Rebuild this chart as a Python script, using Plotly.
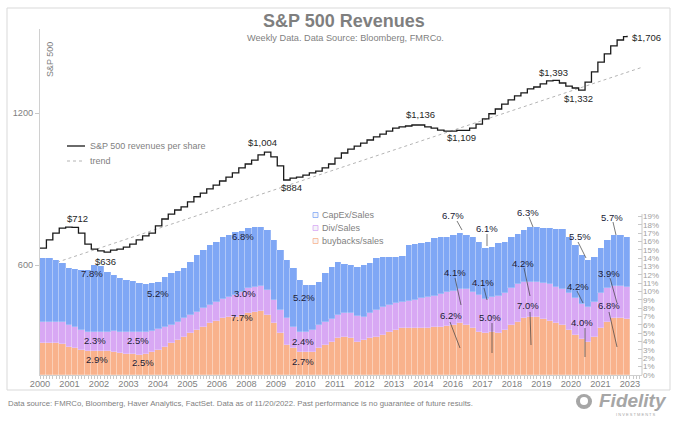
import plotly.graph_objects as go

# ---------------- data ----------------
# quarterly readings, 2000Q1 .. 2022Q4 (decimal year of quarter start)
quarters = [2000 + 0.25 * i for i in range(92)]

rev_per_share = [
    648, 673, 694, 710, 713, 712, 694, 660, 645, 640, 636, 642,
    645, 651, 660, 673, 685, 694, 717, 740, 757, 771, 782, 800,
    819, 833, 849, 864, 880, 896, 913, 934, 951, 968, 991, 1004,
    982, 943, 884, 892, 896, 904, 913, 921, 934, 951, 977, 1000,
    1018, 1032, 1046, 1061, 1076, 1090, 1105, 1120, 1126, 1131, 1136, 1136,
    1126, 1120, 1110, 1105, 1105, 1109, 1109, 1120, 1141, 1168, 1196, 1222,
    1250, 1274, 1297, 1315, 1339, 1351, 1370, 1389, 1393, 1376, 1357, 1345,
    1332, 1382, 1447, 1514, 1571, 1630, 1674, 1700,
]
asof_date = 2022.888   # 11/20/2022
asof_value = 1706

buybacks_sales = [
    3.8, 3.8, 3.8, 3.7, 3.4, 3.2, 3.0, 2.9, 2.9, 2.9, 2.9, 2.8,
    2.6, 2.5, 2.5, 2.4, 2.5, 2.7, 3.0, 3.4, 3.8, 4.2, 4.6, 5.0,
    5.4, 5.8, 6.2, 6.5, 6.8, 7.0, 7.0, 7.2, 7.4, 7.6, 7.7, 7.2,
    6.2, 5.0, 3.6, 3.2, 2.8, 2.7, 2.8, 3.2, 3.6, 4.0, 4.4, 4.5,
    4.4, 4.0, 4.2, 4.4, 4.6, 4.8, 5.2, 5.4, 5.6, 5.6, 5.6, 5.6,
    5.6, 5.7, 5.8, 5.9, 6.0, 6.2, 6.0, 5.6, 5.2, 5.0, 5.2, 5.0,
    5.4, 6.0, 6.4, 6.8, 7.0, 6.9, 6.7, 6.5, 6.2, 6.0, 5.4, 4.8,
    4.3, 4.0, 4.5, 5.6, 6.4, 6.8, 6.8, 6.7,
]
div_sales = [
    2.6, 2.6, 2.6, 2.6, 2.6, 2.6, 2.4, 2.3, 2.3, 2.3, 2.3, 2.5,
    2.6, 2.6, 2.6, 2.7, 2.7, 2.6, 2.5, 2.3, 2.2, 2.2, 2.2, 2.2,
    2.2, 2.2, 2.2, 2.3, 2.3, 2.4, 2.6, 2.8, 3.0, 3.0, 3.0, 3.0,
    2.8, 2.8, 3.2, 2.6, 2.4, 2.4, 2.6, 2.8, 2.8, 2.7, 2.8, 2.9,
    3.0, 3.1, 2.8, 3.0, 3.2, 3.3, 3.2, 3.2, 3.2, 3.3, 3.4, 3.6,
    3.7, 3.8, 3.9, 4.0, 4.1, 4.1, 4.3, 4.4, 4.4, 4.1, 4.1, 4.5,
    4.4, 4.4, 4.5, 4.3, 4.2, 4.3, 4.3, 4.4, 4.4, 4.3, 4.4, 4.4,
    4.2, 4.2, 4.3, 4.2, 4.0, 3.9, 3.9, 3.8,
]
capex_sales = [
    7.6, 7.6, 7.4, 7.1, 6.8, 6.9, 7.2, 7.4, 8.0, 7.9, 7.2, 6.7,
    6.4, 6.3, 6.2, 5.9, 5.7, 5.7, 5.7, 6.0, 6.2, 6.1, 6.0, 6.3,
    6.8, 7.0, 7.2, 7.2, 7.4, 7.4, 7.5, 7.3, 7.2, 7.1, 7.0, 7.2,
    7.2, 7.2, 7.0, 7.0, 6.2, 5.7, 5.4, 5.2, 5.8, 6.2, 6.3, 5.9,
    5.8, 5.9, 6.2, 6.0, 6.2, 6.0, 5.7, 5.6, 5.5, 6.7, 6.7, 6.6,
    6.6, 6.9, 6.8, 6.7, 6.7, 6.7, 6.5, 6.5, 6.4, 6.1, 6.0, 6.3,
    6.2, 6.1, 6.0, 6.3, 6.5, 6.6, 6.6, 6.7, 6.9, 7.2, 6.8, 6.4,
    5.9, 5.6, 5.3, 5.4, 5.8, 6.1, 6.1, 6.1,
]

trend_dates = [2000.0, 2023.47]
trend_values = [592, 1478]

tick_positions = [2000 + 1.15 * i for i in range(21)]
tick_labels = ["2000", "2001", "2002", "2003", "2004", "2005", "2006", "2008",
               "2009", "2010", "2011", "2012", "2013", "2014", "2016", "2017",
               "2018", "2019", "2020", "2021", "2023"]

line_labels = [("$712", 77, 218), ("$636", 105, 261), ("$1,004", 262, 142),
               ("$884", 291, 187), ("$1,136", 420, 114), ("$1,109", 461, 137),
               ("$1,393", 553, 72), ("$1,332", 578, 98), ("$1,706", 646, 37)]
pct_labels = [("7.8%", 92, 273), ("5.2%", 158, 293), ("6.8%", 243, 236),
              ("3.0%", 245, 293), ("7.7%", 242, 317), ("5.2%", 304, 297),
              ("2.3%", 95, 340), ("2.5%", 138, 340), ("2.9%", 97, 359),
              ("2.5%", 143, 362), ("2.4%", 303, 341), ("2.7%", 303, 361),
              ("6.7%", 453, 215), ("6.1%", 487, 229), ("6.3%", 528, 212),
              ("5.5%", 580, 237), ("5.7%", 612, 217), ("4.1%", 455, 272),
              ("4.1%", 483, 282), ("4.2%", 523, 263), ("4.2%", 578, 286),
              ("4.0%", 582, 322), ("3.9%", 609, 273), ("6.2%", 451, 315),
              ("5.0%", 490, 317), ("7.0%", 528, 305), ("6.8%", 609, 305)]
leaders = [((457, 221), (462, 230)), ((487, 234), (487, 246)), ((529, 217), (533, 227)),
           ((578, 242), (586, 258)), ((613, 222), (616, 235)), ((455, 278), (461, 305)),
           ((484, 288), (487, 300)), ((524, 268), (530, 296)), ((577, 291), (583, 303)),
           ((585, 328), (585, 357)), ((610, 278), (617, 303)), ((450, 322), (460, 348)),
           ((492, 323), (492, 353)), ((530, 312), (531, 345)), ((609, 312), (617, 347))]

# ---------------- layout helpers (pixel -> paper) ----------------
L, R, T, B = 40, 642, 29, 375
W, H = R - L, B - T


def px(x):
    return (x - L) / W


def py(y):
    return (B - y) / H


FONT = "Liberation Sans, Arial, sans-serif"
GRAY = "#7f7f7f"
BLUE, PURPLE, ORANGE = "#7fa7f5", "#d8a8f4", "#f9b28c"

fig = go.Figure()

# trend (base layer, behind bars)
fig.add_trace(go.Scatter(x=trend_dates, y=trend_values, mode="lines",
                         line=dict(color="#ababab", width=0.9, dash="dot"),
                         xaxis="x", yaxis="y", showlegend=False, hoverinfo="skip"))

bar_x = [q + 0.125 for q in quarters]
for vals, col, name in [(buybacks_sales, ORANGE, "buybacks/sales"),
                        (div_sales, PURPLE, "Div/Sales"),
                        (capex_sales, BLUE, "CapEx/Sales")]:
    fig.add_trace(go.Bar(x=bar_x, y=vals, width=0.25, marker_color=col,
                         marker_line=dict(color="rgba(255,255,255,0.35)", width=0.6),
                         name=name, xaxis="x", yaxis="y2", showlegend=False))

fig.add_trace(go.Scatter(x=quarters + [asof_date], y=rev_per_share + [asof_value],
                         mode="lines", line=dict(color="#1a1a1a", width=1.3, shape="hv"),
                         xaxis="x", yaxis="y3", showlegend=False))

yr = [2.56029, 3.24555]
top_pct = 19 * H / (B - 216.5)   # 19% sits at pixel row 216.5
fig.update_layout(
    width=680, height=421, autosize=False,
    margin=dict(l=L, r=680 - R, t=T, b=421 - B, pad=0, autoexpand=False),
    paper_bgcolor="white", plot_bgcolor="white",
    barmode="stack", bargap=0,
    font=dict(family=FONT, color=GRAY, size=10),
    xaxis=dict(range=[2000, 2023.47], tickmode="array", tickvals=tick_positions,
               ticktext=tick_labels, showgrid=False, zeroline=False, automargin=False,
               showline=True, linecolor="#d0d0d0", ticks="", ticklen=0,
               tickfont=dict(size=9.2, color=GRAY),
               minor=dict(ticks="outside", ticklen=3, tickcolor="#c8c8c8",
                          tick0=2000, dtick=0.125)),
    yaxis=dict(type="log", range=yr, tickmode="array", tickvals=[600, 1200],
               ticktext=["600", "1200"], showgrid=False, zeroline=False, automargin=False,
               showline=True, linecolor="#d0d0d0", ticks="outside", ticklen=4,
               tickcolor="#c8c8c8", tickfont=dict(size=9.2, color=GRAY)),
    yaxis2=dict(overlaying="y", anchor="x", side="right", range=[0, top_pct],
                tickmode="array", tickvals=list(range(20)), automargin=False,
                ticktext=[f"{v}%" for v in range(20)], showgrid=False, zeroline=False,
                showline=False, ticks="inside", ticklen=4,
                tickcolor="#c8c8c8", tickfont=dict(size=8, color="#a0a0a0")),
    yaxis3=dict(overlaying="y", type="log", range=yr, visible=False),
)


def note(text, x, y, size=10, color=GRAY, xanchor="center", **kw):
    return dict(text=text, x=px(x), y=py(y), xref="paper", yref="paper",
                xanchor=xanchor, yanchor="middle", showarrow=False,
                font=dict(size=size, color=color), **kw)


ann = []
ann.append(note("<b>S&P 500 Revenues</b>", 344, 21, size=18))
ann.append(note("Weekly Data. Data Source: Bloomberg, FMRCo.", 345, 38, size=9.2))
ann.append(note("S&P 500", 50, 60, size=9, textangle=-90))
ann.append(note("Data source: FMRCo, Bloomberg, Haver Analytics, FactSet. Data as of 11/20/2022. "
                "Past performance is no guarantee of future results.", 6, 403, size=7.8,
                xanchor="left"))
ann.append(note("S&P 500 revenues per share", 88, 146, size=9, xanchor="left"))
ann.append(note("trend", 88, 161, size=9, xanchor="left"))
for name, yy in [("CapEx/Sales", 215), ("Div/Sales", 228), ("buybacks/sales", 241)]:
    ann.append(note(name, 320, yy, size=9, xanchor="left"))
for t, x, y in line_labels:
    ann.append(note(t, x, y, size=9.5, color="#262626"))
for t, x, y in pct_labels:
    ann.append(note(t, x, y, size=9.5, color="#202035"))
ann.append(note("<b><i>Fidelity</i></b>", 633, 400, size=19, color="#a6a6a6"))
ann.append(note("I N V E S T M E N T S", 636, 414, size=4, color="#a6a6a6"))
fig.update_layout(annotations=ann)

shapes = []
shapes.append(dict(type="rect", xref="paper", yref="paper", x0=px(7), x1=px(670), y0=py(390), y1=py(8),
                   line=dict(color="#d9d9d9", width=1), layer="below"))
# right axis line (only over the percentage range)
shapes.append(dict(type="line", xref="paper", yref="paper", x0=1, x1=1, y0=0, y1=py(214),
                   line=dict(color="#c8c8c8", width=1)))
shapes.append(dict(type="line", xref="paper", yref="paper", x0=px(67), x1=px(85), y0=py(146), y1=py(146),
                   line=dict(color="#1a1a1a", width=1.3)))
shapes.append(dict(type="line", xref="paper", yref="paper", x0=px(67), x1=px(85), y0=py(161), y1=py(161),
                   line=dict(color="#ababab", width=0.9, dash="dot")))
for col, yy in [(BLUE, 215), (PURPLE, 228), (ORANGE, 241)]:
    shapes.append(dict(type="rect", xref="paper", yref="paper", x0=px(313), x1=px(318),
                       y0=py(yy + 2.5), y1=py(yy - 2.5), fillcolor="#f4f4f8",
                       line=dict(color=col, width=0.8)))
for (a, b) in leaders:
    shapes.append(dict(type="line", xref="paper", yref="paper", x0=px(a[0]), y0=py(a[1]),
                       x1=px(b[0]), y1=py(b[1]), line=dict(color="#404040", width=0.7)))
shapes.append(dict(type="circle", xref="paper", yref="paper", x0=px(576), x1=px(592),
                   y0=py(409), y1=py(394), fillcolor="#a6a6a6", line=dict(width=0)))
shapes.append(dict(type="circle", xref="paper", yref="paper", x0=px(580), x1=px(588),
                   y0=py(405), y1=py(397), fillcolor="white", line=dict(width=0)))
fig.update_layout(shapes=shapes)

fig.write_html("out.html", config={"displayModeBar": False},
               post_script="document.body.style.margin='0';document.body.style.overflow='hidden';")
